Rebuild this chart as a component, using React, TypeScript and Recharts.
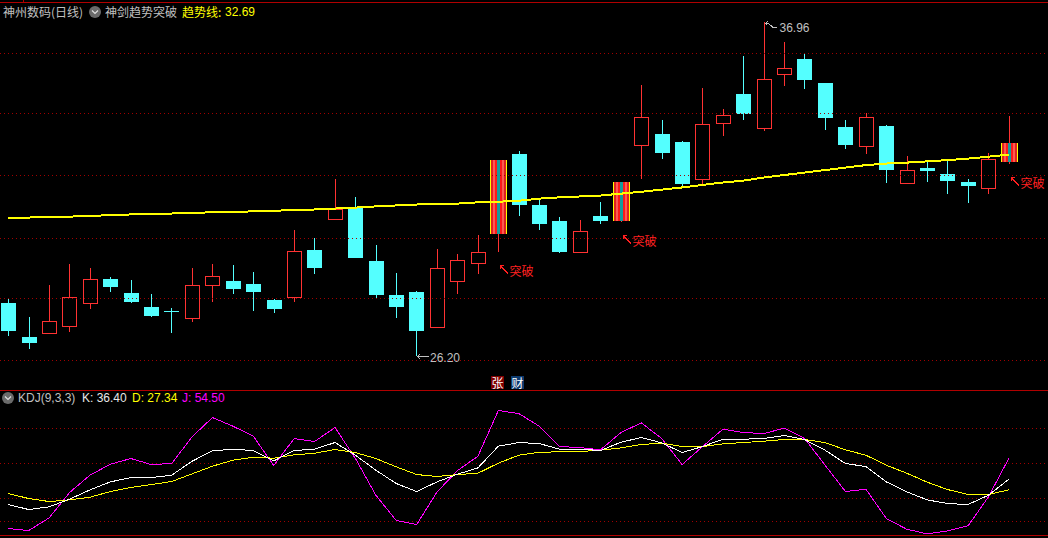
import React from "react";
import { ComposedChart, Bar, Line, XAxis, YAxis, ReferenceLine } from "recharts";

const opens = [27.91,26.81,26.93,27.16,27.92,28.68,28.23,27.78,27.64,27.41,28.50,28.62,28.52,28.00,28.11,29.62,30.62,30.98,29.26,28.17,28.26,27.14,28.63,29.21,30.13,32.71,31.06,30.55,29.56,30.71,30.55,32.99,33.35,33.09,31.91,33.72,34.64,33.55,35.30,35.77,34.99,33.58,32.98,33.61,31.78,32.26,32.06,31.80,31.62,32.45];
const highs = [28.06,27.46,28.49,29.16,29.04,28.75,28.65,28.20,27.75,29.04,29.16,29.13,28.91,28.04,30.26,30.00,31.90,31.32,29.78,28.87,28.29,29.65,29.49,30.10,32.51,32.80,31.29,30.68,30.58,31.16,31.80,34.93,33.80,33.13,34.83,34.16,35.87,36.96,36.32,35.96,34.99,33.80,34.03,33.64,32.64,32.45,32.51,31.90,32.74,33.93];
const lows = [26.85,26.44,26.93,26.98,27.72,28.27,27.91,27.46,26.94,27.30,27.94,28.20,27.65,27.59,27.94,28.84,30.62,29.36,28.04,27.42,26.20,27.14,28.20,28.84,29.55,30.71,30.26,29.52,29.56,30.45,30.52,31.91,32.55,31.65,31.71,33.29,33.80,33.45,34.90,34.80,33.48,32.87,32.71,31.77,31.78,31.80,31.42,31.13,31.42,32.39];
const closes = [27.01,26.62,27.32,28.09,28.67,28.42,27.94,27.49,27.64,28.48,28.77,28.36,28.26,27.71,29.57,29.04,30.94,29.36,28.17,27.78,27.01,29.04,29.29,29.55,32.51,31.06,30.45,29.55,30.22,30.55,31.80,33.90,32.74,31.74,33.66,33.95,34.00,35.11,35.47,35.09,33.87,33.00,33.89,32.19,32.18,32.16,31.84,31.68,32.54,33.06];
const trend = [30.65,30.66,30.68,30.69,30.71,30.74,30.76,30.78,30.79,30.81,30.83,30.84,30.86,30.88,30.90,30.92,30.95,30.98,31.02,31.05,31.08,31.10,31.11,31.15,31.17,31.20,31.27,31.31,31.34,31.37,31.43,31.49,31.56,31.63,31.71,31.79,31.85,31.95,32.03,32.11,32.19,32.27,32.35,32.40,32.43,32.47,32.51,32.56,32.62,32.69];
const breakouts = [24, 30, 49];
const kValues = [14.62,10.31,12.61,19.22,27.27,34.16,37.90,37.90,39.91,51.98,60.89,62.33,61.18,52.27,61.18,62.33,68.07,57.15,44.22,32.73,25.83,34.16,40.77,46.23,64.91,68.07,67.21,62.33,62.33,61.18,68.36,72.38,67.79,59.45,64.63,70.95,70.95,71.52,74.11,70.66,61.46,49.97,47.38,34.16,25.54,18.65,15.49,14.62,22.67,36.40];
const dValues = [24.11,19.80,17.21,18.65,20.95,25.83,29.28,31.87,34.45,41.06,47.67,52.84,55.43,54.57,57.44,58.88,62.04,59.45,54.28,47.10,40.49,38.76,40.49,41.64,50.26,57.15,59.74,60.03,60.31,61.46,63.48,66.35,67.50,64.63,64.63,66.92,68.07,69.22,70.66,70.66,68.07,61.75,57.15,48.53,41.64,33.88,27.56,23.25,23.25,27.34];
const jValues = [-6.07,-7.79,3.13,24.97,39.91,49.39,54.28,49.11,49.97,72.96,89.63,82.15,73.53,48.25,71.52,68.94,81.00,54.28,22.67,0.83,-2.62,25.54,43.94,56.29,95.66,93.07,82.15,64.63,63.76,61.75,76.69,85.03,71.52,49.11,64.63,79.57,76.69,75.83,80.43,71.52,48.53,25.83,27.85,2.56,-6.64,-10.66,-8.08,-3.77,21.23,54.50];
const priceGrid = [35.96, 34.0, 32.0, 30.0, 28.04, 26.04];
const kdjGrid = [80, 50, 20, 0];

const stockTitle = "神州数码(日线)";
const indicatorTitle = "神剑趋势突破";
const trendLabel = "趋势线:";
const trendValue = "32.69";
const kdjTitle = "KDJ(9,3,3)";
const kdjReadout = [
  { label: "K:", value: "36.40", color: "#e8e8e8" },
  { label: "D:", value: "27.34", color: "#ffff00" },
  { label: "J:", value: "54.50", color: "#ff00ff" },
];
const breakoutText = "突破";
const badges = [
  { text: "张", bg: "#800000" },
  { text: "财", bg: "#0c3a6e" },
];

const candles = opens.map((open, i) => ({
  i, open, high: highs[i], low: lows[i], close: closes[i], trend: trend[i],
  k: kValues[i], d: dValues[i], j: jValues[i],
}));

const RED = "#ff3232";
const CYAN = "#54ffff";
const GREY = "#c0c0c0";
const GRID = "#a00000";
const LINE = "#b00000";
const W = 1048;
const xDomain: [number, number] = [-0.406, 50.917];
const maxHigh = Math.max(...highs);
const minLow = Math.min(...lows);
const CJK = '"Noto Sans CJK SC", sans-serif';
const LATIN = '"Liberation Sans", sans-serif';
const crisp = { shapeRendering: "crispEdges" as const };

function geometry(props: any) {
  const { x, y, width, height, payload } = props;
  const h = Math.abs(height);
  const span = payload.high - payload.low || 1;
  const toY = (v: number) => y + ((payload.high - v) / span) * h;
  const left = Math.round(x + width / 2 - 7.5);
  return { toY, left, payload };
}

function Candle(props: any) {
  const { toY, left, payload } = geometry(props);
  if (breakouts.includes(payload.i)) return null;
  const up = payload.close > payload.open;
  const color = up ? RED : CYAN;
  const top = Math.round(toY(Math.max(payload.open, payload.close)));
  const bottom = Math.round(toY(Math.min(payload.open, payload.close)));
  const hi = Math.round(toY(payload.high));
  const lo = Math.round(toY(payload.low));
  const cx = left + 7.5;
  const isDoji = bottom - top < 2;
  return (
    <g {...crisp}>
      {up ? (
        <>
          <line x1={cx} x2={cx} y1={hi} y2={top} stroke={color} />
          <line x1={cx} x2={cx} y1={bottom} y2={lo} stroke={color} />
          <rect x={left + 0.5} y={top + 0.5} width={14} height={bottom - top} fill="#000" stroke={color} />
        </>
      ) : (
        <>
          <line x1={cx} x2={cx} y1={hi} y2={lo} stroke={color} />
          {isDoji ? (
            <line x1={left} x2={left + 15} y1={top + 0.5} y2={top + 0.5} stroke={color} />
          ) : (
            <rect x={left} y={top} width={15} height={bottom - top} fill={color} />
          )}
        </>
      )}
      {payload.high === maxHigh && (
        <g>
          <path d={`M${cx + 1} ${hi + 1.5}h3l4 3.5h4M${cx + 3} ${hi - 0.5}l-2 2l2 2`} fill="none" stroke={GREY} />
          <text x={cx + 15} y={hi + 10} fontFamily={LATIN} fontSize={12} fill={GREY}>{payload.high.toFixed(2)}</text>
        </g>
      )}
      {payload.low === minLow && (
        <g>
          <path d={`M${cx + 1} ${lo + 0.5}h11M${cx + 3.5} ${lo - 2}l-2.5 2.5l2.5 2.5`} fill="none" stroke={GREY} />
          <text x={cx + 13.5} y={lo + 5.5} fontFamily={LATIN} fontSize={12} fill={GREY}>{payload.low.toFixed(2)}</text>
        </g>
      )}
    </g>
  );
}

const stripes = [
  { w: 1, c: "#ffff00" }, { w: 2, c: "#e02020" }, { w: 2, c: "#ff5a50" }, { w: 2, c: "#ff1818" },
  { w: 3, c: "#149c9c" }, { w: 2, c: "#ff1818" }, { w: 2, c: "#ff5a50" }, { w: 2, c: "#e02020" }, { w: 1, c: "#ffff00" },
];

function BreakoutBar(props: any) {
  const { toY, left, payload } = geometry(props);
  if (!breakouts.includes(payload.i)) return null;
  const top = Math.round(toY(payload.close));
  const bottom = Math.round(toY(payload.open));
  const hi = Math.round(toY(payload.high));
  const lo = Math.round(toY(payload.low));
  const barLeft = left - 1;
  const cx = left + 7.5;
  let cursor = barLeft;
  return (
    <g>
      <g {...crisp}>
        <line x1={cx} x2={cx} y1={hi} y2={lo} stroke={RED} />
        {stripes.map((s, k) => {
          const r = <rect key={k} x={cursor} y={top} width={s.w} height={bottom - top} fill={s.c} />;
          cursor += s.w;
          return r;
        })}
      </g>
      <path d={`M${cx + 1.5} ${lo + 13.5}l8 8M${cx + 1.5} ${lo + 17}v-3.5h3.5`} fill="none" stroke="#ff2020" {...crisp} />
      <text x={cx + 11} y={lo + 23.5} fontFamily={CJK} fontSize={12} fill="#ff2020">{breakoutText}</text>
    </g>
  );
}

function Chevron({ cx, cy }: { cx: number; cy: number }) {
  return (
    <g>
      <circle cx={cx} cy={cy} r={6} fill="#6a6a6a" />
      <path d={`M${cx - 3} ${cy - 1.5}l3 3l3 -3`} fill="none" stroke="#e0e0e0" strokeWidth={1.2} />
    </g>
  );
}

function Label({ x, y, color, font, children }: any) {
  return (
    <span style={{ position: "absolute", left: x, top: y, lineHeight: "14px", fontSize: 12, color, fontFamily: font, whiteSpace: "pre" }}>
      {children}
    </span>
  );
}

export default function App() {
  return (
    <div style={{ position: "fixed", left: 0, top: 0, width: W, height: 538, background: "#000", overflow: "hidden" }}>
      <div style={{ position: "absolute", left: 0, top: 0 }}>
        <ComposedChart width={W} height={390} data={candles} margin={{ top: 0, right: 0, bottom: 0, left: 0 }}>
          <XAxis xAxisId="a" dataKey="i" type="number" domain={xDomain} hide allowDataOverflow />
          <XAxis xAxisId="b" dataKey="i" type="number" domain={xDomain} hide allowDataOverflow />
          <YAxis domain={[25.104, 37.669]} hide allowDataOverflow />
          {priceGrid.map((v) => (
            <ReferenceLine key={v} xAxisId="a" y={v} stroke={GRID} strokeDasharray="1 3" {...crisp} />
          ))}
          <Bar xAxisId="a" dataKey={(d: any) => [d.low, d.high]} barSize={15} shape={<Candle />} isAnimationActive={false} />
          <Line xAxisId="a" dataKey="trend" stroke="#ffff00" strokeWidth={2} dot={false} activeDot={false} isAnimationActive={false} {...crisp} />
          <Bar xAxisId="b" dataKey={(d: any) => [d.low, d.high]} barSize={15} shape={<BreakoutBar />} isAnimationActive={false} />
        </ComposedChart>
      </div>
      <div style={{ position: "absolute", left: 0, top: 391 }}>
        <ComposedChart width={W} height={144} data={candles} margin={{ top: 0, right: 0, bottom: 0, left: 0 }}>
          <XAxis dataKey="i" type="number" domain={xDomain} hide allowDataOverflow />
          <YAxis domain={[-11.64, 112.5]} hide allowDataOverflow />
          {kdjGrid.map((v) => (
            <ReferenceLine key={v} y={v} stroke={GRID} strokeDasharray="1 3" {...crisp} />
          ))}
          <Line dataKey="j" stroke="#ff00ff" strokeWidth={1} dot={false} activeDot={false} isAnimationActive={false} {...crisp} />
          <Line dataKey="d" stroke="#ffff00" strokeWidth={1} dot={false} activeDot={false} isAnimationActive={false} {...crisp} />
          <Line dataKey="k" stroke="#ffffff" strokeWidth={1} dot={false} activeDot={false} isAnimationActive={false} {...crisp} />
        </ComposedChart>
      </div>

      {/* frame */}
      <div style={{ position: "absolute", left: 0, top: 2, width: W, height: 1, background: LINE }} />
      <div style={{ position: "absolute", left: 23, top: 0, width: 1, height: 2, background: LINE }} />
      <div style={{ position: "absolute", left: 0, top: 390, width: W, height: 1, background: LINE }} />
      <div style={{ position: "absolute", left: 0, top: 535, width: W, height: 1, background: LINE }} />

      <svg width={W} height={538} style={{ position: "absolute", left: 0, top: 0, pointerEvents: "none" }}>
        <Chevron cx={95} cy={12} />
        <Chevron cx={8} cy={398} />
      </svg>

      <Label x={3} y={5} color={GREY} font={CJK}>{stockTitle}</Label>
      <Label x={105} y={5} color={GREY} font={CJK}>{indicatorTitle}</Label>
      <Label x={182} y={5} color="#ffff00" font={CJK}>{trendLabel}</Label>
      <Label x={225} y={5} color="#ffff00" font={LATIN}>{trendValue}</Label>

      <Label x={18} y={391} color={GREY} font={LATIN}>{kdjTitle}</Label>
      {kdjReadout.map((r, i) => (
        <Label key={r.label} x={82 + i * 50} y={391} color={r.color} font={LATIN}>{`${r.label} ${r.value}`}</Label>
      ))}

      {badges.map((b, i) => (
        <div key={b.text} style={{ position: "absolute", left: 491 + i * 20, top: 376, width: 13, height: 13, background: b.bg, color: "#fff", fontSize: 12, lineHeight: "13px", textAlign: "center", fontFamily: CJK, overflow: "hidden" }}>
          {b.text}
        </div>
      ))}
    </div>
  );
}
